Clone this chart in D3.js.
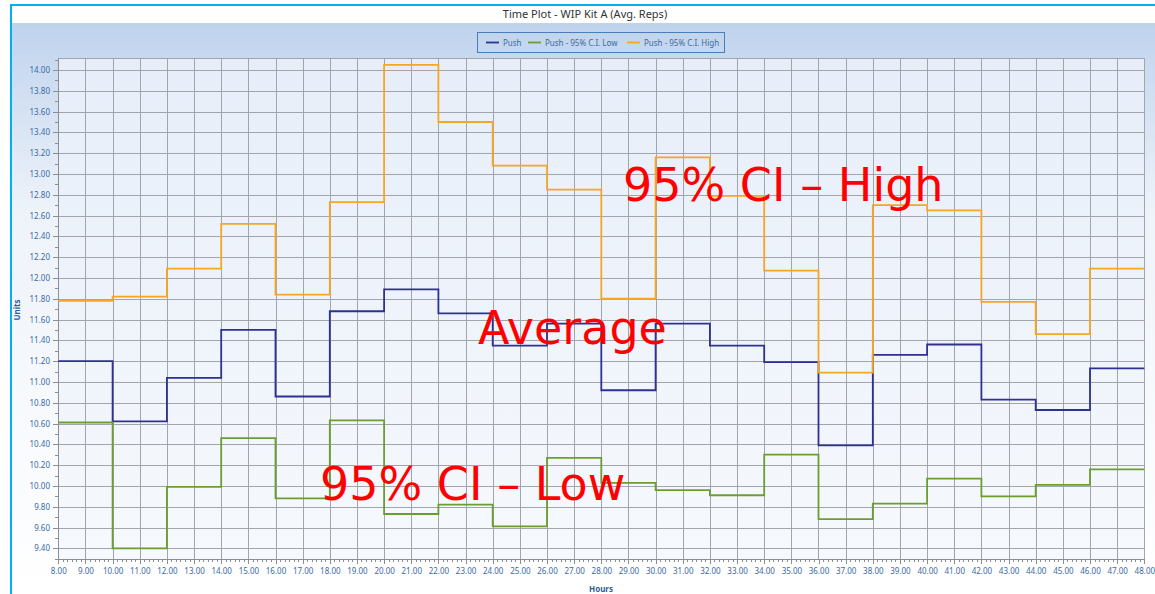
<!DOCTYPE html>
<html>
<head>
<meta charset="utf-8">
<title>Time Plot - WIP Kit A (Avg. Reps)</title>
<script src="https://d3js.org/d3.v7.min.js"></script>
<style>
  body { margin: 0; background: #fff; }
  svg { display: block; }
  .axis text { font-family: "Noto Sans", sans-serif; font-size: 8px; fill: #3b6aa3; }
  .axis path, .axis line { stroke: #8c8e95; shape-rendering: crispEdges; }
  .grid line { stroke: #a3a5ac; stroke-width: 1; shape-rendering: crispEdges; }
  .series { fill: none; stroke-width: 1.8; }
  .note { font-family: "DejaVu Sans", sans-serif; font-size: 46px; fill: #ff0000; }
  .legend text { font-family: "Noto Sans", sans-serif; font-size: 8px; fill: #3b6aa3; }
</style>
</head>
<body>
<svg width="1155" height="594"></svg>
<script>
// step boundaries (hours) - each value holds from its hour to the next
var hours = [8, 10, 12, 14, 16, 18, 20, 22, 24, 26, 28, 30, 32, 34, 36, 38, 40, 42, 44, 46, 48];

var push     = [11.20, 10.62, 11.04, 11.50, 10.86, 11.68, 11.89, 11.66, 11.35, 11.56,
                10.92, 11.56, 11.35, 11.19, 10.39, 11.26, 11.36, 10.83, 10.73, 11.13];
var pushLow  = [10.61,  9.40,  9.99, 10.46,  9.88, 10.63,  9.73,  9.82,  9.61, 10.27,
                10.03,  9.96,  9.91, 10.30,  9.68,  9.83, 10.07,  9.90, 10.01, 10.16];
var pushHigh = [11.78, 11.82, 12.09, 12.52, 11.84, 12.73, 14.05, 13.50, 13.08, 12.85,
                11.80, 13.16, 12.79, 12.07, 11.09, 12.70, 12.65, 11.77, 11.46, 12.09];

var yTicks = [9.4, 9.6, 9.8, 10.0, 10.2, 10.4, 10.6, 10.8, 11.0, 11.2, 11.4, 11.6,
              11.8, 12.0, 12.2, 12.4, 12.6, 12.8, 13.0, 13.2, 13.4, 13.6, 13.8, 14.0];
var xTicks = [8, 9, 10, 11, 12, 13, 14, 15, 16, 17, 18, 19, 20, 21, 22, 23, 24, 25, 26, 27, 28,
              29, 30, 31, 32, 33, 34, 35, 36, 37, 38, 39, 40, 41, 42, 43, 44, 45, 46, 47, 48];

var seriesNames = ["Push", "Push - 95% C.I. Low", "Push - 95% C.I. High"];
var seriesColors = ["#2e3192", "#6b9e2f", "#f5a623"];
var seriesData = [push, pushLow, pushHigh];

var notes = [
  {text: "95% CI \u2013 High", x: 623, y: 201},
  {text: "Average", x: 478, y: 344},
  {text: "95% CI \u2013 Low", x: 320, y: 500}
];

var W = 1155, H = 594;
var plot = {left: 58, top: 58, right: 1145, bottom: 559};

var svg = d3.select("svg");
var defs = svg.append("defs");

var bg = defs.append("linearGradient").attr("id", "bgGrad")
  .attr("x1", 0).attr("y1", 0).attr("x2", 0).attr("y2", 1);
bg.append("stop").attr("offset", "0%").attr("stop-color", "#bfd3ed");
bg.append("stop").attr("offset", "33%").attr("stop-color", "#eef3fa");
bg.append("stop").attr("offset", "100%").attr("stop-color", "#ffffff");

var pg = defs.append("linearGradient").attr("id", "plotGrad")
  .attr("x1", 0).attr("y1", 0).attr("x2", 0).attr("y2", 1);
pg.append("stop").attr("offset", "0%").attr("stop-color", "#e7eef9");
pg.append("stop").attr("offset", "100%").attr("stop-color", "#f6f9fd");

// chart background + frame
svg.append("rect").attr("x", 12).attr("y", 23).attr("width", W - 12).attr("height", H - 23)
  .attr("fill", "url(#bgGrad)");
svg.append("rect").attr("x", 10).attr("y", 4).attr("width", W - 10).attr("height", 2).attr("fill", "#00b0f0");
svg.append("rect").attr("x", 10).attr("y", 4).attr("width", 2).attr("height", H - 4).attr("fill", "#00b0f0");

svg.append("text")
  .attr("x", 585).attr("y", 18)
  .attr("text-anchor", "middle")
  .style("font-family", "'Noto Sans', sans-serif")
  .style("font-size", "11px")
  .style("fill", "#333")
  .text("Time Plot - WIP Kit A (Avg. Reps)");

// scales
var x = d3.scaleLinear().domain([8, 48]).range([58.3, 1144.3]);
var y = d3.scaleLinear().domain([9.4, 14.0]).range([548.3, 70]);

svg.append("rect")
  .attr("x", plot.left).attr("y", plot.top)
  .attr("width", plot.right - plot.left).attr("height", plot.bottom - plot.top)
  .attr("fill", "url(#plotGrad)");

// grid
var grid = svg.append("g").attr("class", "grid");
grid.selectAll(".v").data(xTicks).join("line")
  .attr("x1", function(d) { return Math.round(x(d)) + 0.5; })
  .attr("x2", function(d) { return Math.round(x(d)) + 0.5; })
  .attr("y1", plot.top).attr("y2", plot.bottom);
grid.selectAll(".h").data(yTicks).join("line")
  .attr("x1", plot.left).attr("x2", plot.right)
  .attr("y1", function(d) { return Math.round(y(d)) + 0.5; })
  .attr("y2", function(d) { return Math.round(y(d)) + 0.5; });

svg.append("rect")
  .attr("x", plot.left + 0.5).attr("y", plot.top + 0.5)
  .attr("width", plot.right - plot.left - 1).attr("height", plot.bottom - plot.top)
  .attr("fill", "none").attr("stroke", "#a3a5ac").attr("shape-rendering", "crispEdges");

// axes
var yMinor = d3.range(9.3, 14.11, 0.1);
svg.append("g").attr("class", "axis")
  .attr("transform", "translate(" + plot.left + ",0)")
  .call(d3.axisLeft(y).tickValues(yMinor).tickSize(3).tickFormat(""))
  .select(".domain").remove();
var yAxis = svg.append("g").attr("class", "axis")
  .attr("transform", "translate(" + plot.left + ",0)")
  .call(d3.axisLeft(y).tickValues(yTicks).tickSize(5).tickPadding(3).tickFormat(d3.format(".2f")));
yAxis.select(".domain").attr("d", "M0," + plot.top + "V" + plot.bottom);

var xMinor = d3.range(8, 48.001, 1 / 6);
svg.append("g").attr("class", "axis")
  .attr("transform", "translate(0," + plot.bottom + ")")
  .call(d3.axisBottom(x).tickValues(xMinor).tickSize(3).tickFormat(""))
  .select(".domain").remove();
var xAxis = svg.append("g").attr("class", "axis")
  .attr("transform", "translate(0," + plot.bottom + ")")
  .call(d3.axisBottom(x).tickValues(xTicks).tickSize(5).tickPadding(4).tickFormat(d3.format(".2f")));
xAxis.select(".domain").attr("d", "M" + plot.left + ",0H" + plot.right);

svg.append("text")
  .attr("transform", "translate(20,310) rotate(-90)")
  .attr("text-anchor", "middle")
  .style("font-family", "'Noto Sans', sans-serif").style("font-size", "8px")
  .style("font-weight", "bold").style("fill", "#2f5f9a")
  .text("Units");
svg.append("text")
  .attr("x", 601).attr("y", 592)
  .attr("text-anchor", "middle")
  .style("font-family", "'Noto Sans', sans-serif").style("font-size", "8px")
  .style("font-weight", "bold").style("fill", "#2f5f9a")
  .text("Hours");

// series (step lines)
var line = d3.line()
  .x(function(d) { return x(d.h); })
  .y(function(d) { return y(d.v); })
  .curve(d3.curveStepAfter);

seriesData.forEach(function(vals, k) {
  var pts = hours.map(function(h, i) { return {h: h, v: vals[Math.min(i, vals.length - 1)]}; });
  svg.append("path").datum(pts)
    .attr("class", "series")
    .attr("stroke", seriesColors[k])
    .attr("d", line);
});

// legend
var legend = svg.append("g").attr("class", "legend");
legend.append("rect")
  .attr("x", 477.5).attr("y", 32.5).attr("width", 247).attr("height", 20)
  .attr("fill", "none").attr("stroke", "#4a7ebb");
var legX = [486, 528, 627];
seriesNames.forEach(function(name, k) {
  legend.append("line")
    .attr("x1", legX[k]).attr("x2", legX[k] + 13)
    .attr("y1", 42.5).attr("y2", 42.5)
    .attr("stroke", seriesColors[k]).attr("stroke-width", 1.8);
  legend.append("text")
    .attr("x", legX[k] + 17).attr("y", 45.5)
    .text(name);
});

// annotations
svg.selectAll(".note").data(notes).join("text")
  .attr("class", "note")
  .attr("x", function(d) { return d.x; })
  .attr("y", function(d) { return d.y; })
  .text(function(d) { return d.text; });
</script>
</body>
</html>
